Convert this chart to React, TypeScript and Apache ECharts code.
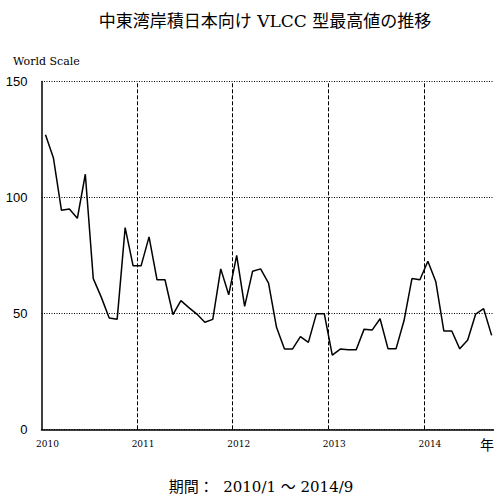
import React, { useEffect, useRef } from "react";
import * as echarts from "echarts";

// Monthly values 2010/1 .. 2014/9 (World Scale)
const values2010 = [127, 117, 94.5, 95, 91, 110, 65, 57, 48, 47.5, 87, 70.5];
const values2011 = [70.5, 83, 64.5, 64.5, 49.5, 55.5, 52.5, 49.7, 46.2, 47.4, 69.2, 58];
const values2012 = [75, 53, 68.2, 69.2, 63, 44, 34.6, 34.6, 40, 37.5, 49.8, 49.8];
const values2013 = [32, 34.6, 34.3, 34.3, 43.2, 42.8, 47.7, 34.7, 34.7, 46.8, 65, 64.5];
const values2014 = [72.5, 63.6, 42.4, 42.4, 34.7, 38.5, 49.7, 52, 40.5];
const startYear = 2010;
const yearTicks = [2010, 2011, 2012, 2013, 2014];
const yTicks = [0, 50, 100, 150];

const allValues = [...values2010, ...values2011, ...values2012, ...values2013, ...values2014];

export default function App() {
  const ref = useRef<HTMLDivElement>(null);
  useEffect(() => {
    if (!ref.current) return;
    const chart = echarts.init(ref.current, null, { renderer: "svg" });
    const data = allValues.map((v, i) => [i + 0.5, v]);
    const serif = "'DejaVu Serif', 'Noto Sans CJK JP', serif";
    chart.setOption({
      animation: false,
      backgroundColor: "#fff",
      grid: { left: 41.5, right: 0, top: 81.5, bottom: 68.7, containLabel: false },
      xAxis: {
        type: "value",
        min: 0,
        max: 56.8,
        interval: 12,
        axisLine: { show: true, onZero: false, lineStyle: { color: "#000", width: 1.5 } },
        axisTick: { show: false },
        splitLine: { show: false },
        axisLabel: {
          color: "#000",
          fontFamily: serif,
          fontSize: 9,
          margin: 10,
          padding: [0, 0, 0, 12],
          showMaxLabel: false,
          formatter: (v: number) => {
            const y = startYear + v / 12;
            return Number.isInteger(y) && yearTicks.includes(y) ? String(y) : "";
          },
        },
      },
      yAxis: {
        type: "value",
        min: yTicks[0],
        max: yTicks[yTicks.length - 1],
        interval: 50,
        axisLine: { show: true, lineStyle: { color: "#000", width: 1.5 } },
        axisTick: { show: false },
        axisLabel: {
          color: "#000",
          fontFamily: "'Liberation Sans', Arial, sans-serif",
          fontSize: 13,
          margin: 14,
        },
        splitLine: { show: true, lineStyle: { color: "#000", type: [1, 1.5], width: 1 } },
      },
      series: [
        {
          type: "line",
          data,
          symbol: "none",
          lineStyle: { color: "#000", width: 1.5 },
          markLine: {
            silent: true,
            symbol: "none",
            label: { show: false },
            lineStyle: { color: "#000", type: [4, 2], width: 1 },
            data: yearTicks.slice(1).map((y) => ({ xAxis: (y - startYear) * 12 })),
          },
          z: 5,
        },
      ],
      graphic: [
        {
          type: "text",
          x: 265,
          y: 21,
          style: {
            text: "中東湾岸積日本向け VLCC 型最高値の推移",
            font: `17px ${serif}`,
            fill: "#000",
            textAlign: "center",
            textVerticalAlign: "middle",
          },
        },
        {
          type: "text",
          x: 13,
          y: 61,
          style: {
            text: "World Scale",
            font: `11px ${serif}`,
            fill: "#000",
            textAlign: "left",
            textVerticalAlign: "middle",
          },
        },
        {
          type: "text",
          x: 480,
          y: 445,
          style: {
            text: "年",
            font: `14px ${serif}`,
            fill: "#000",
            textAlign: "left",
            textVerticalAlign: "middle",
          },
        },
        {
          type: "text",
          x: 261,
          y: 487,
          style: {
            text: "期間：  2010/1 ～ 2014/9",
            font: `15px ${serif}`,
            fill: "#000",
            textAlign: "center",
            textVerticalAlign: "middle",
          },
        },
      ],
    });
    return () => chart.dispose();
  }, []);
  return (
    <div
      ref={ref}
      style={{ position: "fixed", left: 0, top: 0, width: 494, height: 498, background: "#fff" }}
    />
  );
}
